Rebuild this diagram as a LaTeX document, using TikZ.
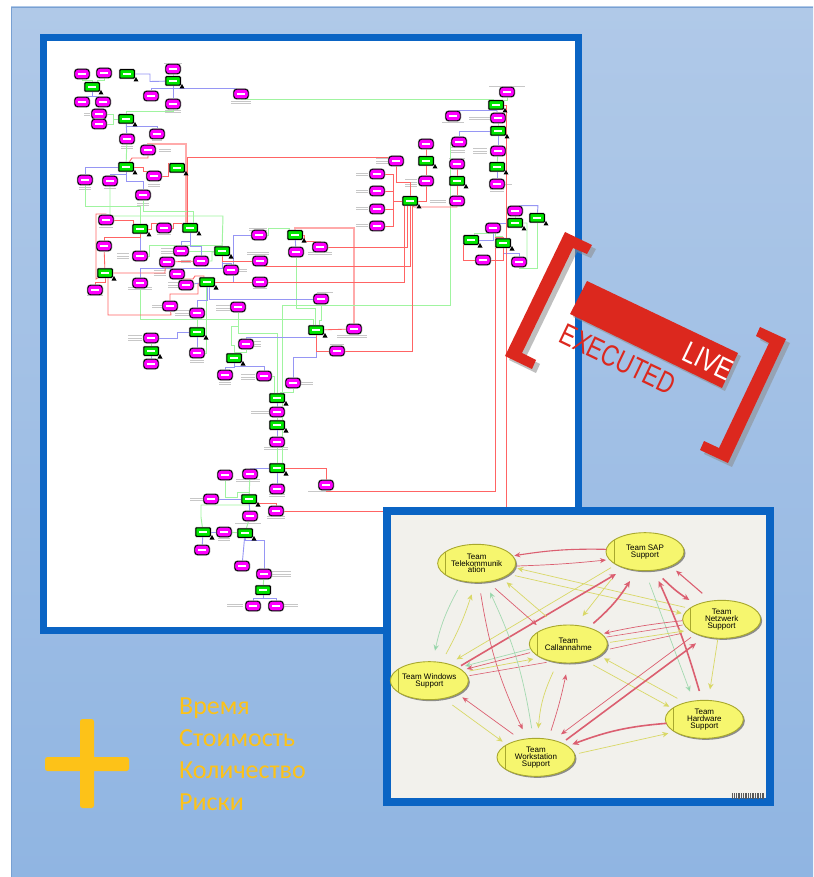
\documentclass[tikz,border=0pt]{standalone}
\usepackage{fontspec}
\setmainfont{Liberation Sans}
\newfontfamily\cyrfont{Carlito}
\usetikzlibrary{shapes.geometric,shapes.misc,arrows.meta,shadows,calc}
\definecolor{panelblue}{HTML}{0A64C4}
\definecolor{stampred}{HTML}{DC281E}
\definecolor{plusgold}{HTML}{FDC218}
\definecolor{magn}{HTML}{FF00FF}
\definecolor{grn}{HTML}{00E800}
\definecolor{rl}{HTML}{FF6464}
\definecolor{gl}{HTML}{A0F4A0}
\definecolor{bl}{HTML}{9696F4}
\definecolor{arR}{HTML}{DB5F70}
\definecolor{arY}{HTML}{D9D866}
\definecolor{arG}{HTML}{A3D9B0}
\definecolor{arT}{HTML}{66CC99}
\definecolor{ellY}{HTML}{F6F66E}
\definecolor{ellB}{HTML}{A8A82E}
\definecolor{bgtop}{HTML}{B0C9E8}
\definecolor{bgbot}{HTML}{90B5E2}
\definecolor{bgedge}{HTML}{78A0D2}
\definecolor{insetbg}{HTML}{F2F1EC}
\pgfdeclarelayer{bg}\pgfdeclarelayer{conn}\pgfdeclarelayer{top}
\pgfsetlayers{bg,conn,main,top}
\tikzset{
 mgn/.style={rectangle,rounded corners=3pt,preaction={draw=black!30,line width=2pt},draw=black,line width=.9pt,fill=magn,minimum width=14.5pt,minimum height=9.5pt,inner sep=0pt},
 grnb/.style={rectangle,rounded corners=.8pt,preaction={draw=black!30,line width=2pt},draw=black,line width=1pt,fill=grn,minimum width=14.5pt,minimum height=8.5pt,inner sep=0pt},
 rline/.style={draw=rl,line width=.85pt},
 rfat/.style={draw=rl!55,line width=1.7pt},
 gline/.style={draw=gl,line width=.95pt},
 bline/.style={draw=bl,line width=.9pt},
 capt/.style={draw=black!22,line width=.45pt},
 ell/.style={ellipse,draw=ellB,line width=.9pt,fill=ellY,minimum width=78pt,minimum height=38pt,inner sep=0pt,align=center,font=\fontsize{8}{6.8}\selectfont,drop shadow={shadow xshift=1.5pt,shadow yshift=-1.5pt,fill=black!55,opacity=.8}},
 aR/.style={draw=arR,line width=.7pt,-{Stealth[length=6pt,width=5pt,fill=arR]}},
 aRn/.style={draw=arR,line width=.6pt},
 aRm/.style={draw=arR,line width=1.1pt,-{Stealth[length=6pt,width=5pt,fill=arR]}},
 aRt/.style={draw=arR,line width=1.6pt,-{Stealth[length=6.5pt,width=6pt,fill=arR]}},
 aY/.style={draw=arY,line width=.7pt,-{Stealth[length=6pt,width=5.5pt,fill=arY]}},
 aG/.style={draw=arG,line width=.7pt,-{Stealth[length=6pt,width=5.5pt,fill=arT]}},
 stamp/.style={fill=stampred},
 stshadow/.style={fill=black!45,opacity=.55},
 ruLabel/.style={anchor=base west,font=\cyrfont\fontsize{26}{26}\selectfont,text=plusgold,inner sep=0pt},
}
\newcommand\mg[3]{\node[mgn] (#1) at (#2,#3) {};\fill[white] (#1.center)+(-3.8,-1.2) rectangle +(3.8,1.2);}
\newcommand\grx[3]{\node[grnb] (#1) at (#2,#3) {};\fill[white] (#1.center)+(-4,-.9) rectangle +(4,.9);}
\newcommand\gr[3]{\grx{#1}{#2}{#3}\fill[black] (#1.center)+(9,3) -- +(11.5,7.5) -- +(6.5,7.5) -- cycle;}
\newcommand\tarr[8]{\draw[#1] ([shift={(#3,#4)}]#2.center) to[bend right=#8] ([shift={(#6,#7)}]#5.center);}
\begin{document}
\begin{tikzpicture}[x=1pt,y=-1pt]
\useasboundingbox (0,0) rectangle (813,877);
\begin{pgfonlayer}{bg}
\fill[white] (0,0) rectangle (813,877);
\shade[top color=bgtop,bottom color=bgbot] (11,7) rectangle (813,877);
\draw[bgedge,line width=.7pt] (11,877) -- (11,7) -- (813,7);
\fill[panelblue] (40,34) rectangle (582,634);
\fill[white] (47,41) rectangle (575,627);
\end{pgfonlayer}
% magenta nodes
\mg{mA}{82}{74}\mg{mB}{104}{73}\mg{mC}{173}{69}\mg{mD}{151}{96}\mg{mE}{173}{104}\mg{mF}{82}{102}\mg{mG}{103}{102}\mg{mH}{99}{114}\mg{mI}{99}{124}\mg{mJ}{241}{94}\mg{mK}{127}{139}\mg{mL}{157}{134}\mg{mM}{148}{150}\mg{mN}{85}{180}\mg{mO}{110}{181}\mg{mP}{154}{176}\mg{mQ}{143}{195}\mg{mR}{106}{220}\mg{mS}{164}{228}\mg{mT}{104}{246}\mg{mU}{140}{256}\mg{mV}{181}{251}\mg{mW}{167}{262}\mg{mX}{201}{261}\mg{mY}{177}{274}\mg{mZ}{140}{283}
\mg{na}{186}{285}\mg{nb}{95}{290}\mg{nc}{231}{270}\mg{nd}{260}{261}\mg{ne}{260}{282}\mg{nf}{259}{235}\mg{ng}{296}{252}\mg{nh}{320}{247}\mg{ni}{321}{299}\mg{nj}{170}{306}\mg{nk}{197}{313}\mg{nl}{238}{307}\mg{nm}{151}{338}\mg{nn}{246}{344}\mg{no}{151}{364}\mg{np}{197}{353}\mg{nq}{225}{375}\mg{nr}{264}{376}\mg{ns}{293}{383}\mg{nt}{277}{412}\mg{nu}{277}{442}\mg{nv}{225}{475}\mg{nw}{250}{474}\mg{nx}{277}{489}\mg{ny}{326}{485}\mg{nz}{211}{499}
\mg{pa}{276}{511}\mg{pb}{250}{516}\mg{pc}{224}{532}\mg{pd}{202}{550}\mg{pe}{242}{566}\mg{pf}{264}{574}\mg{pg}{253}{606}\mg{ph}{276}{606}\mg{pi}{354}{329}\mg{pj}{337}{351}\mg{pk}{507}{92}\mg{pl}{453}{116}\mg{pm}{498}{118}\mg{pn}{459}{142}\mg{po}{498}{151}\mg{pp}{457}{164}\mg{pq}{497}{184}\mg{pr}{426}{144}\mg{ps}{426}{181}\mg{ptt}{457}{201}\mg{pu}{396}{161}\mg{pv}{377}{174}\mg{pw}{377}{191}\mg{px}{377}{209}\mg{py}{377}{226}\mg{pz}{515}{211}\mg{qa}{493}{228}\mg{qb}{483}{260}\mg{qc}{519}{262}
% green nodes
\gr{ga}{127}{74}\gr{gb}{173}{81}\gr{gc}{92}{87}\gr{gd}{126}{119}\gr{ge}{126}{167}\gr{gf}{177}{168}\gr{gg}{140}{229}\gr{gh}{190}{228}\gr{gi}{222}{251}\gr{gj}{105}{273}\gr{gk}{207}{282}\gr{gll}{295}{235}\gr{gm}{197}{332}\gr{gn}{316}{330}\gr{go}{151}{351}\gr{gp}{234}{358}\gr{gq}{277}{398}\gr{gr}{277}{425}\gr{gs}{277}{468}\gr{gt}{249}{499}\gr{gu}{203}{532}\gr{gv}{245}{533}\grx{gw}{263}{590}\gr{gx}{496}{105}\gr{gy}{498}{131}\gr{gz}{497}{167}
\gr{ha}{426}{161}\gr{hb}{457}{181}\gr{hc}{410}{201}\gr{hd}{537}{218}\gr{he}{515}{223}\gr{hf}{471}{240}\gr{hg}{503}{243}
\begin{pgfonlayer}{conn}
% caption smudges
\foreach \x/\y/\w/\n in {173/63/18/1,241/102/20/2,173/111/16/2,87/114/6/2,127/147/12/2,157/140/10/1,165/150/12/2,85/188/12/2,110/188/12/1,154/185/12/2,143/203/12/3,106/227/14/1,164/234/14/1,123/256/12/3,167/251/12/3,186/261/10/2,160/273/12/3,140/288/24/2,173/285/10/3,95/295/16/1,242/270/10/2,258/253/22/2,260/288/14/1,258/229/18/2,158/306/12/2,182/313/14/3,223/308/14/3,507/86/36/1,453/122/22/1,480/118/22/2,458/150/14/3,480/151/14/3,457/158/16/1,497/190/14/2,508/184/8/1,382/161/12/3,362/174/12/2,362/191/12/2,362/208/12/2,362/225/12/2,411/183/12/4,438/201/16/2,320/253/24/2,325/292/16/1,352/336/30/2,337/344/14/1,135/338/14/3,197/360/14/3,255/344/12/3,225/382/12/3,248/377/14/3,307/383/12/2,260/412/18/2,276/448/24/2,224/470/12/1,248/480/24/2,277/495/16/2,320/491/24/1,197/499/14/2,276/517/18/2,248/523/26/1,224/539/12/2,281/574/20/3,235/605/16/2,290/605/16/2}{
 \foreach \i in {1,...,\n}{\draw[capt] ({\x-\w/2},{\y+(\i-(\n+1)/2)*2.3}) -- ++(\w,0);}
}
% fat pale red
\draw[rfat] (mM) |- (186,144) -- (186,226);
\draw[rfat] (gll) |- (354,228) -- (pi);
% green
\draw[gline] (mA) |- (87,80.5) -| (gc);
\draw[gline] (mB) |- (97,80.5) -- (97,83);
\draw[gline] (mC) -- (gb);
\draw[gline] (mJ) |- (493,99) -- (493,101);
\draw[gline] (mH) -- (113,114) |- (mI);
\draw[gline] (113,119) -- (gd);
\draw[gline] (mE) |- (126,111) -- (gd);
\draw[gline] (mK) -- (ge);
\draw[gline] (mN) |- (140,206) -- (gg);
\draw[gline] (mO) |- (223,216) -- (gi);
\draw[gline] (mQ) |- (193,211) -- (193,224);
\draw[gline] (mV) -- (gi);
\draw[gline] (mU) -| (149,245) -- (222,245) -- (gi);
\draw[gline] (mX) -| (212,252) -- (gi);
\draw[gline] (mZ) |- (313,319) -- (313,326);
\draw[gline] (nf) -| (268,228) -- (289,228) -- (289,231);
\draw[gline] (ng) |- (315,308) -- (315,326);
\draw[gline] (pn) -| (450,305) -- (282,305) -- (282,464);
\draw[gline] (ni) |- (319,320) -- (319,326);
\draw[gline] (pm) -- (gy);
\draw[gline] (po) -- (gz);
\draw[gline] (pk) |- (499,100) -- (499,101);
\draw[gline] (pz) -- (he);
\draw[gline] (he) -| (527,263) -- (qc);
\draw[gline] (hd) |- (519,268) -- (qc);
\draw[gline] (qa) |- (474,233) -- (474,236);
\draw[gline] (qa) -| (495,236) -- (502,236) -- (502,239);
\draw[gline] (nl) |- (231,326) -- (231,345) -- (234,345) -- (gp);
\draw[gline] (nl) |- (277,333) -- (gq);
\draw[gline] (nk) -- (gm);
\draw[gline] (gk) -| (206,353) -- (np);
\draw[gline] (nn) |- (234,352) -- (gp);
\draw[gline] (nr) -| (274,394);
\draw[gline] (ns) |- (280,392) -- (280,394);
\draw[gline] (nt) -- (gr);
\draw[gline] (nu) -- (gs);
\draw[gline] (nw) -- (gt);
\draw[gline] (nv) |- (237,497) -- (237,492) -| (gt);
\draw[gline] (gt) |- (201,505) -- (201,517) -- (gu);
\draw[gline] (pb) -- (gv);
\draw[gline] (pc) -- (gv);
\draw[gline] (pf) -- (gw);
\draw[gline] (nm) -- (go);
% blue
\draw[bline] (gc) |- (82,96) -- (mF);
\draw[bline] (gc) |- (103,96) -- (mG);
\draw[bline] (ga) -| (150,81.5) -- (gb);
\draw[bline] (gb) |- (151,88) -- (mD);
\draw[bline] (gb) -- (mE);
\draw[bline] (gb) |- (241,88) -- (mJ);
\draw[bline] (gd) -- (mK);
\draw[bline] (gd) |- (157,126) -- (mL);
\draw[bline] (ge) -| (mN);
\draw[bline] (ge) |- (110,174) -- (mO);
\draw[bline] (ge) |- (143,181) -- (mQ);
\draw[bline] (gg) -- (mU);
\draw[bline] (gh) |- (181,241) -- (mV);
\draw[bline] (gh) |- (201,246) -- (mX);
\draw[bline] (gi) |- (140,268) -- (mZ);
\draw[bline] (gk) -| (233,235) -- (nf);
\draw[bline] (gi) |- (231,263) -- (nc);
\draw[bline] (gk) -| (209,299) -- (ni);
\draw[bline] (gk) |- (197,300) -- (nk);
\draw[bline] (gm) -- (np);
\draw[bline] (gm) -| (177,338) -- (nm);
\draw[bline] (go) -- (no);
\draw[bline] (gn) |- (246,337) -- (nn);
\draw[bline] (gn) |- (293,357) -- (ns);
\draw[bline] (gp) |- (225,367) -- (nq);
\draw[bline] (gp) |- (264,366) -- (nr);
\draw[bline] (gq) -- (nt);
\draw[bline] (gr) -- (nu);
\draw[bline] (gs) -| (nw);
\draw[bline] (gs) -- (nx);
\draw[bline] (gt) -- (nz);
\draw[bline] (gt) -- (pb);
\draw[bline] (gu) -- (pc);
\draw[bline] (gu) -- (pd);
\draw[bline] (gv) -- (pe);
\draw[bline] (gv) |- (264,540) -- (pf);
\draw[bline] (gw) |- (253,598) -- (pg);
\draw[bline] (gw) |- (276,598) -- (ph);
\draw[bline] (gll) -- (ng);
\draw[bline] (na) -- (gk);
\draw[bline] (gy) -| (pn);
\draw[bline] (gx) |- (453,110) -- (pl);
\draw[bline] (gx) -- (pm);
\draw[bline] (gy) -- (po);
\draw[bline] (gz) -- (pq);
\draw[bline] (pz) |- (538,205.7) -- (hd);
\draw[bline] (he) -| (qa);
\draw[bline] (qa) |- (hf);
\draw[bline] (hg) |- (519,253) -- (qc);
% red
\draw[rline] (mM) |- (132,158) -- (ge);
\draw[rline] (gh) -| (187,157) -- (396,157) -- (pu);
\draw[rline] (ge) -| (143,171) -- (154,171) -- (mP);
\draw[rline] (mP) -| (168,163) -- (177,163) -- (gf);
\draw[rline] (mR) -| (133,225);
\draw[rline] (mR) |- (96,214) -- (96,279) -- (gj);
\draw[rline] (gj) |- (95,282) -- (nb);
\draw[rline] (gg) |- (104,237) -- (mT);
\draw[rline] (mT) -- (gj);
\draw[rline] (gg) -| (151,223) -- (164,223) -- (mS);
\draw[rline] (mS) -| (173,223) -- (190,223) -- (gh);
\draw[rline] (gj) -| (165,270) -- (mW);
\draw[rline] (mW) -- (mX);
\draw[rline] (mW) -- (mY);
\draw[rline] (mY) |- (193,279) -- (195,276) -| (204,278);
\draw[rline] (gj) -| (108,315) -- (171,315) -- (nj);
\draw[rline] (nj) |- (198,294) -- (198,284) -- (gk);
\draw[rline] (gi) |- (nd);
\draw[rline] (nd) |- (410,266.5) -- (hc);
\draw[rline] (gk) -- (ne);
\draw[rline] (ne) -| (404,205);
\draw[rline] (nh) -| (407,205);
\draw[rline] (pj) -| (412.5,205);
\draw[rline] (gn) |- (pj);
\draw[rline] (gn) -- (pi);
\draw[rline] (gll) -| (304,241) -- (320,241) -- (nh);
\draw[rline] (hc) |- (396,182) -- (pu);
\draw[rline] (pv) -| (393,226) -- (py);
\draw[rline] (pw) -- (393,191);
\draw[rline] (px) -- (393,209);
\draw[rline] (393,201) -- (hc);
\draw[rline] (ps) |- (hc);
\draw[rline] (pr) -- (ha);
\draw[rline] (ha) -- (ps);
\draw[rline] (pp) -- (hb);
\draw[rline] (hb) -- (ptt);
\draw[rline] (ptt) |- (414,207) -- (hc);
\draw[rline] (gx) -| (506,511) -- (pa);
\draw[rline] (hg) |- (495,237) -- (495,491) -- (326,491) -- (ny);
\draw[rline] (hf) |- (463,235) |- (qb);
\draw[rline] (hg) |- (qb);
\draw[rline] (gs) -| (ny);
\draw[rline] (gt) |- (276,503) -- (pa);
\end{pgfonlayer}
\begin{pgfonlayer}{top}
% inset
\fill[panelblue] (383,507) rectangle (774,806);
\fill[insetbg] (391,515) rectangle (766,798);
\begin{scope}[shift={(380,505)},x=.33333pt,y=-.33333pt]
\node[ell] (T) at (290,175) {Team\\Telekommunik\\ation};
\node[ell] (S) at (795,140) {Team SAP\\Support};
\node[ell] (N) at (1025,343) {Team\\Netzwerk\\Support};
\node[ell] (C) at (565,417) {Team\\Callannahme};
\node[ell] (W) at (148,527) {Team Windows\\Support};
\node[ell] (H) at (973,643) {Team\\Hardware\\Support};
\node[ell] (K) at (468,757) {Team\\Workstation\\Support};
\foreach \e in {T,S,N,C,W,H,K}{\draw[ellB,line width=.9pt] ([shift={(-93,-34)}]\e.center) -- ([shift={(-93,34)}]\e.center);}
\tarr{aRm}{S}{-115}{-7}{T}{113}{-23}{5}
\tarr{aR}{T}{120}{8}{S}{-117}{25}{2}
\tarr{aY}{S}{-102}{48}{W}{82}{-64}{0}
\tarr{aY}{N}{-110}{-36}{T}{122}{15}{0}
\tarr{aY}{T}{115}{37}{N}{-120}{-18}{0}
\tarr{aRt}{W}{95}{-45}{S}{-87}{67}{0}
\tarr{aY}{S}{-100}{82}{C}{43}{-84}{0}
\tarr{aRt}{C}{75}{-62}{S}{-45}{88}{8}
\tarr{aRt}{S}{53}{80}{N}{-97}{-58}{6}
\tarr{aRm}{N}{-58}{-78}{S}{93}{57}{0}
\tarr{aRt}{H}{-15}{-85}{S}{41}{88}{4}
\tarr{aG}{S}{13}{93}{H}{-43}{-83}{0}
\tarr{aY}{N}{-12}{62}{H}{17}{-90}{0}
\tarr{aR}{N}{-117}{4}{C}{107}{-32}{3}
\tarr{aRn}{N}{-117}{17}{C}{115}{-21}{0}
\tarr{aY}{C}{125}{-5}{N}{-113}{35}{0}
\tarr{aRn}{C}{125}{15}{N}{-120}{42}{0}
\tarr{aG}{C}{-115}{15}{W}{107}{-44}{0}
\tarr{aR}{C}{-115}{26}{W}{112}{-35}{0}
\tarr{aY}{W}{120}{-29}{C}{-105}{45}{0}
\tarr{aRn}{W}{120}{-15}{C}{-65}{55}{0}
\tarr{aG}{T}{-57}{80}{W}{17}{-90}{8}
\tarr{aY}{W}{50}{-80}{T}{-15}{93}{5}
\tarr{aR}{T}{12}{90}{K}{-40}{-84}{8}
\tarr{aG}{K}{-13}{-87}{T}{40}{87}{8}
\tarr{aR}{T}{55}{75}{C}{-95}{-57}{0}
\tarr{aY}{C}{-65}{-82}{T}{90}{57}{0}
\tarr{aY}{W}{69}{73}{K}{-100}{-47}{0}
\tarr{aR}{K}{-68}{-69}{W}{99}{50}{0}
\tarr{aY}{C}{-45}{83}{K}{7}{-87}{10}
\tarr{aR}{K}{45}{-80}{C}{-7}{91}{3}
\tarr{aY}{C}{75}{63}{H}{-105}{-38}{0}
\tarr{aY}{H}{-81}{-63}{C}{107}{43}{0}
\tarr{aR}{N}{-92}{54}{K}{75}{-69}{0}
\tarr{aRt}{K}{90}{-52}{N}{-77}{72}{0}
\tarr{aRt}{H}{-113}{12}{K}{109}{-39}{8}
\tarr{aY}{K}{129}{-12}{H}{-108}{42}{0}
\end{scope}
% barcode
\foreach \bx/\bw in {732/.8,734/.5,735.5/.8,737.5/.5,739/1,741/.5,742.5/.8,744.5/.5,746/1,748/.5,749.5/.8,751.5/.5,753/1,755/.5,756.5/.8,758/.5,759.5/.8,761.5/.5,763/.8}{\fill[black!65] (\bx,793) rectangle ++(\bw,6);}
% stamp shadows
\fill[stshadow,shift={(4,4)}] (565,232) -- (592,245) -- (587,254) -- (573,248) -- (522,353) -- (536,360) -- (532,369) -- (505,356) -- cycle;
\fill[stshadow,shift={(4,4)}] (760,327) -- (786,339) -- (728,463) -- (700,450) -- (704,441) -- (719,448) -- (769,343) -- (756,336) -- cycle;
\fill[stshadow,shift={(3,3)}] (587,281) -- (738,353) -- (722,388) -- (570,314) -- cycle;
\fill[stamp] (565,232) -- (592,245) -- (587,254) -- (573,248) -- (522,353) -- (536,360) -- (532,369) -- (505,356) -- cycle;
\fill[stamp] (760,327) -- (786,339) -- (728,463) -- (700,450) -- (704,441) -- (719,448) -- (769,343) -- (756,336) -- cycle;
\fill[stamp] (587,281) -- (738,353) -- (722,388) -- (570,314) -- cycle;
\node[rotate=-25.6,xscale=.8,text=white,font=\fontsize{30}{30}\selectfont,inner sep=0pt] (live) at (708,361) {LIVE};
\node[rotate=-25.6,xscale=.76,text=stampred,font=\fontsize{30}{30}\selectfont,inner sep=0pt] (exec) at (618,359) {EXECUTED};
% plus
\fill[plusgold,rounded corners=2.5pt] (45,757) rectangle (129,771);
\fill[plusgold,rounded corners=2.5pt] (80,719) rectangle (94,808);
\node[ruLabel] (l1) at (179,714) {Время};
\node[ruLabel] (l2) at (179,746) {Стоимость};
\node[ruLabel] (l3) at (179,778) {Количество};
\node[ruLabel] (l4) at (179,810) {Риски};
\end{pgfonlayer}
\end{tikzpicture}
\end{document}
